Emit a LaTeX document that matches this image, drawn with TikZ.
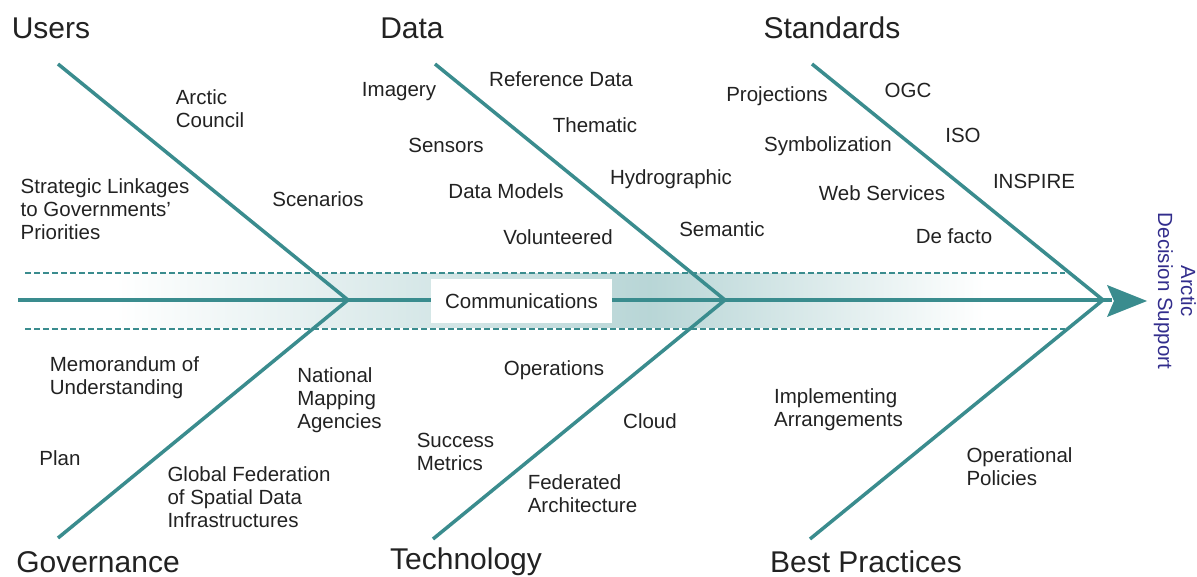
\documentclass[tikz,border=0pt]{standalone}
\usepackage{fontspec}
\setmainfont{Liberation Sans}
\definecolor{teal1}{HTML}{3A8C8E}
\definecolor{txt}{HTML}{222222}
\definecolor{adsblue}{HTML}{322D8C}
\tikzset{
  lbl/.style={text=txt, font=\fontsize{20.5}{23}\selectfont, align=left, inner sep=0pt},
  head/.style={text=txt, font=\fontsize{30}{34}\selectfont, inner sep=0pt},
  bone/.style={draw=teal1, line width=3.5pt},
  spine/.style={draw=teal1, line width=4pt},
  dashln/.style={draw=teal1, line width=2.2pt, dash pattern=on 6pt off 3pt},
}
\begin{document}
\begin{tikzpicture}[x=1pt,y=-1pt]
\useasboundingbox (0,0) rectangle (1197,577);
% gradient band
\shade[left color=white, right color=teal1!36] (115,274) rectangle (650,328);
\shade[left color=teal1!36, right color=white] (650,274) rectangle (985,328);
% dashed lines
\coordinate (dTl) at (25,273); \coordinate (dTr) at (1065,273);
\coordinate (dBl) at (25,329); \coordinate (dBr) at (1065,329);
\draw[dashln] (dTl) -- (dTr);
\draw[dashln] (dBl) -- (dBr);
% spine
\coordinate (start) at (18,300);
\coordinate (J1) at (348,300);
\coordinate (J2) at (725,300);
\coordinate (J3) at (1103,300);
\coordinate (aend) at (1112,300);
\draw[spine] (start) -- (aend);
% bones
\coordinate (uS) at (58,64);
\coordinate (gS) at (58,538);
\coordinate (dS) at (435,64);
\coordinate (tS) at (433,539);
\coordinate (sS) at (812,64);
\coordinate (bS) at (810,539);
\draw[bone] (uS) -- (J1) -- (gS);
\draw[bone] (dS) -- (J2) -- (tS);
\draw[bone] (sS) -- (J3) -- (bS);
% arrow head
\fill[teal1] (1107,285) -- (1147,301) -- (1107,317) -- (1114,301) -- cycle;
% communications box
\node[fill=white, minimum width=181pt, minimum height=44pt, inner sep=0pt, text=txt, font=\fontsize{20.5}{23}\selectfont] (comm) at (521.5,301) {Communications};
% headings
\node[head] (users) at (51,28) {Users};
\node[head] (data) at (412,28) {Data};
\node[head] (standards) at (832,28) {Standards};
\node[head] (gov) at (98,562) {Governance};
\node[head] (tech) at (466,562) {Technology};
\node[head] (best) at (866,562) {Best Practices};
% labels - users
\node[lbl] (arctic) at (210,108.5) {Arctic\\Council};
\node[lbl] (strat) at (105,209) {Strategic Linkages\\to Governments'\\Priorities};
\node[lbl] (scen) at (318,199) {Scenarios};
% data
\node[lbl] (imag) at (399,92) {Imagery};
\node[lbl] (ref) at (561,79) {Reference Data};
\node[lbl] (them) at (595,125) {Thematic};
\node[lbl] (sens) at (446,145) {Sensors};
\node[lbl] (dmod) at (506,191) {Data Models};
\node[lbl] (hydro) at (671,179) {Hydrographic};
\node[lbl] (vol) at (558,237) {Volunteered};
\node[lbl] (sem) at (722,229) {Semantic};
% standards
\node[lbl] (proj) at (777,96) {Projections};
\node[lbl] (ogc) at (908,90) {OGC};
\node[lbl] (symb) at (828,146) {Symbolization};
\node[lbl] (iso) at (963,135) {ISO};
\node[lbl] (webs) at (882,193) {Web Services};
\node[lbl] (insp) at (1034,181) {INSPIRE};
\node[lbl] (defacto) at (954,236) {De facto};
% governance
\node[lbl] (memo) at (124.5,377.5) {Memorandum of\\Understanding};
\node[lbl] (nma) at (339.5,400.5) {National\\Mapping\\Agencies};
\node[lbl] (plan) at (60,458) {Plan};
\node[lbl] (gfsdi) at (249,497) {Global Federation\\of Spatial Data\\Infrastructures};
% technology
\node[lbl] (oper) at (554,370) {Operations};
\node[lbl] (cloud) at (650,421) {Cloud};
\node[lbl] (succ) at (455.5,452) {Success\\Metrics};
\node[lbl] (fed) at (582.5,493.5) {Federated\\Architecture};
% best practices
\node[lbl] (impl) at (838.5,409.5) {Implementing\\Arrangements};
\node[lbl] (opol) at (1019.5,466.5) {Operational\\Policies};
% outcome
\node[rotate=-90, text=adsblue, font=\fontsize{20.5}{23}\selectfont, align=center, inner sep=0pt] (ads) at (1175,291) {Arctic\\Decision Support};
\end{tikzpicture}
\end{document}
